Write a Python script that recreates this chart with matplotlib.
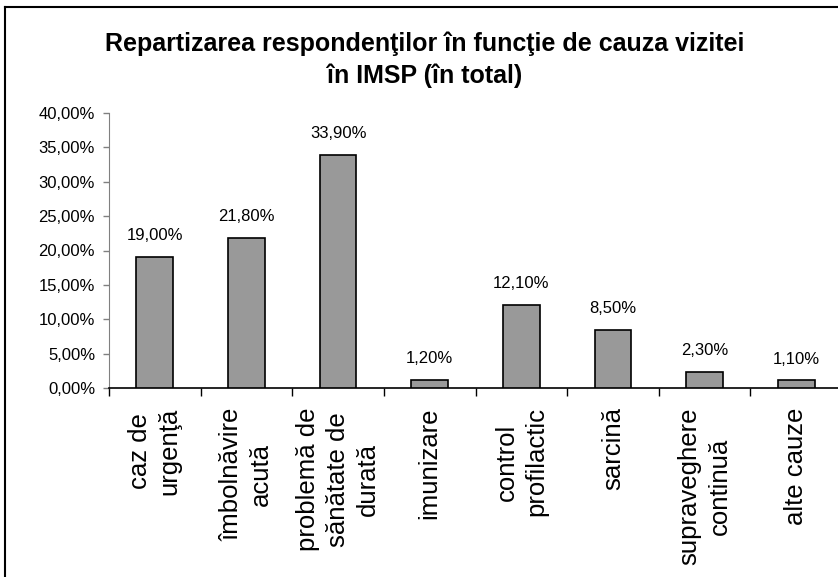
import numpy as np
import matplotlib
matplotlib.use('Agg')
import matplotlib.pyplot as plt
from matplotlib.lines import Line2D

plt.rcParams['font.family'] = ['Liberation Sans', 'DejaVu Sans']

title = 'Repartizarea respondenţilor în funcţie de cauza vizitei\nîn IMSP (în total)'
categories = ['caz de\nurgenţă', 'îmbolnăvire\nacută', 'problemă de\nsănătate de\ndurată',
              'imunizare', 'control\nprofilactic', 'sarcină', 'supraveghere\ncontinuă',
              'alte cauze']
values = [19.0, 21.8, 33.9, 1.2, 12.1, 8.5, 2.3, 1.1]
yticks = [0, 5, 10, 15, 20, 25, 30, 35, 40]

def fmt(v):
    return ('%.2f%%' % v).replace('.', ',')

fig = plt.figure(figsize=(8.38, 5.77), dpi=100)
ax = fig.add_axes([109 / 838, 189 / 577, 733 / 838, 275 / 577])

x = np.arange(len(values))
ax.bar(x, values, width=0.4, color='#999999', edgecolor='black', linewidth=1.2, zorder=3)
for xi, v in zip(x, values):
    ax.annotate(fmt(v), (xi, v), xytext=(0, 10), textcoords='offset points',
                ha='center', va='bottom', fontsize=12)

ax.set_xlim(-0.5, len(values) - 0.5)
ax.set_ylim(0, 40)
ax.set_yticks(yticks)
ax.set_yticklabels([fmt(v) for v in yticks], fontsize=12)
ax.set_xticks(x)
ax.set_xticklabels(categories, rotation=90, fontsize=18.5, ha='center', va='top',
                   multialignment='center', linespacing=1.3)
ax.set_xticks(np.arange(len(values) + 1) - 0.5, minor=True)
ax.tick_params(axis='x', which='major', length=0, pad=14)
ax.tick_params(axis='x', which='minor', length=6, width=1, color='black', direction='out')
ax.tick_params(axis='y', length=4, width=1, color='#808080', pad=6)

for s in ['top', 'right']:
    ax.spines[s].set_visible(False)
ax.spines['left'].set_color('#808080')
ax.spines['bottom'].set_color('black')
ax.spines['bottom'].set_linewidth(1.2)

fig.text(425 / 838, 1 - 60 / 577, title, ha='center', va='center', fontsize=18,
         fontweight='bold', linespacing=1.38)

# outer frame (only left and top visible in the crop)
fig.add_artist(Line2D([5 / 838, 5 / 838], [0, 1 - 7 / 577], transform=fig.transFigure,
                      color='black', linewidth=1.5))
fig.add_artist(Line2D([5 / 838, 1], [1 - 7 / 577, 1 - 7 / 577], transform=fig.transFigure,
                      color='black', linewidth=1.5))

fig.savefig('out.png', dpi=100)
